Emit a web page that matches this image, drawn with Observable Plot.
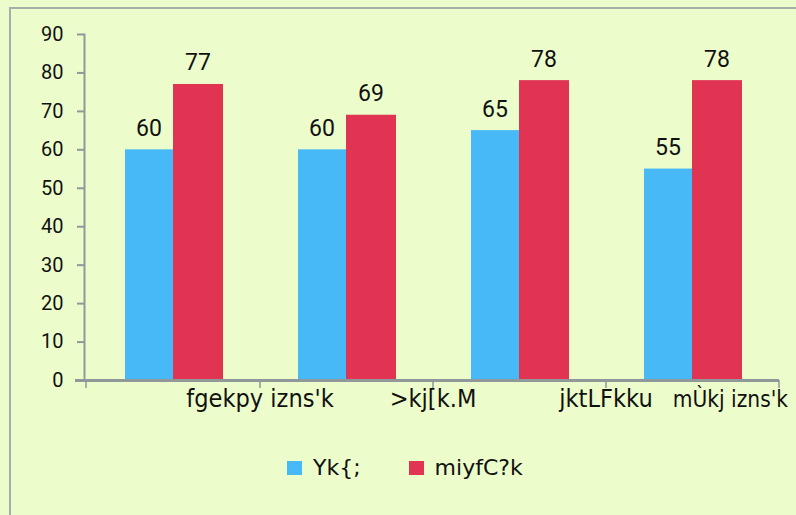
<!DOCTYPE html>
<html>
<head>
<meta charset="utf-8">
<script src="https://cdn.jsdelivr.net/npm/d3@7"></script>
<script src="https://cdn.jsdelivr.net/npm/@observablehq/plot@0.6"></script>
<style>
  html, body { margin: 0; padding: 0; background: #ecfccb; overflow: hidden; }
  #wrap { position: relative; width: 796px; height: 515px; }
  #border { position: absolute; left: 9px; top: 7px; width: 800px; height: 520px; border: 2px solid #a5adad; box-sizing: border-box; }
  #chart { position: absolute; left: 0; top: 0; }
  #legend { position: absolute; top: 455px; left: 287px; display: flex; align-items: center;
            font-family: "DejaVu Sans", sans-serif; font-size: 22px; color: #111; }
  .item { display: flex; align-items: center; }
  .sw { width: 15px; height: 14px; display: inline-block; margin-right: 11px; }
</style>
</head>
<body>
<div id="wrap">
  <div id="border"></div>
  <div id="chart"></div>
  <div id="legend"></div>
</div>
<script>
const categories = ["fgekpy izns'k", ">kj[k.M", "jktLFkku", "mÙkj izns'k"];
const targetValues = [60, 60, 65, 55];
const achievementValues = [77, 69, 78, 78];
const seriesNames = ["Yk{;", "miyfC?k"];
const seriesColors = ["#48b9f7", "#e03452"];
const yTicks = [0, 10, 20, 30, 40, 50, 60, 70, 80, 90];

const rows = categories.map((c, i) => ({category: c, target: targetValues[i], achievement: achievementValues[i]}));
const gray = "#8f9999";
const labelFont = "DejaVu Sans, sans-serif";
const numFont = "Roboto, Noto Sans, sans-serif";

const chart = Plot.plot({
  width: 796,
  height: 515,
  marginLeft: 84,
  marginRight: 17,
  marginTop: 34,
  marginBottom: 135,
  style: {background: "transparent", overflow: "visible"},
  x: {domain: categories, padding: 0},
  y: {domain: [0, 90]},
  marks: [
    Plot.barY(rows, {x: "category", y: "target", fill: seriesColors[0], insetLeft: 39, insetRight: 86}),
    Plot.barY(rows, {x: "category", y: "achievement", fill: seriesColors[1], insetLeft: 87, insetRight: 36}),
    Plot.text(rows, {x: "category", y: "target", text: d => String(d.target), dx: -24, dy: -14, lineAnchor: "bottom", fontSize: 23, fontFamily: numFont, fill: "#111"}),
    Plot.text(rows, {x: "category", y: "achievement", text: d => String(d.achievement), dx: 25, dy: -14, lineAnchor: "bottom", fontSize: 23, fontFamily: numFont, fill: "#111"}),
    Plot.frame({anchor: "left", stroke: gray, strokeWidth: 2}),
    Plot.ruleY([0], {stroke: gray, strokeWidth: 3, insetLeft: -9}),
    Plot.axisY({ticks: yTicks, tickSize: 7, tickPadding: 14, stroke: gray, strokeWidth: 2, fontSize: 20, fontFamily: numFont, fill: "#111", label: null}),
    Plot.axisX({ticks: categories, tickSize: 8, dx: 87, stroke: gray, strokeWidth: 1.5, fill: "none", label: null}),
    Plot.axisX({ticks: categories.slice(0, 1), tickSize: 8, dx: -87, stroke: gray, strokeWidth: 1.5, fill: "none", label: null}),
    Plot.text(rows.slice(0, 3), {x: "category", text: "category", frameAnchor: "bottom", dx: 87, dy: 26, fontSize: 24, fontFamily: labelFont, fill: "#111"}),
    Plot.text(rows.slice(3), {x: "category", text: "category", frameAnchor: "bottom", dx: 96, dy: 26, textAnchor: "end", fontSize: 23, fontFamily: labelFont, fill: "#111"})
  ]
});
document.getElementById("chart").appendChild(chart);

// narrow the category glyphs, like the condensed face of the original
const last = categories[categories.length - 1];
d3.select(chart).selectAll("text").filter(function() { return categories.includes(this.textContent); })
  .each(function() {
    const w = this.getComputedTextLength();
    const f = this.textContent === last ? 0.88 : 0.94;
    this.setAttribute("textLength", (w * f).toFixed(1));
    this.setAttribute("lengthAdjust", "spacingAndGlyphs");
  });

const legend = document.getElementById("legend");
seriesNames.forEach((name, i) => {
  const item = document.createElement("span");
  item.className = "item";
  item.style.marginRight = i === 0 ? "48px" : "0";
  const sw = document.createElement("span");
  sw.className = "sw";
  sw.style.background = seriesColors[i];
  item.appendChild(sw);
  const t = document.createElement("span");
  t.textContent = name;
  item.appendChild(t);
  legend.appendChild(item);
});
</script>
</body>
</html>
